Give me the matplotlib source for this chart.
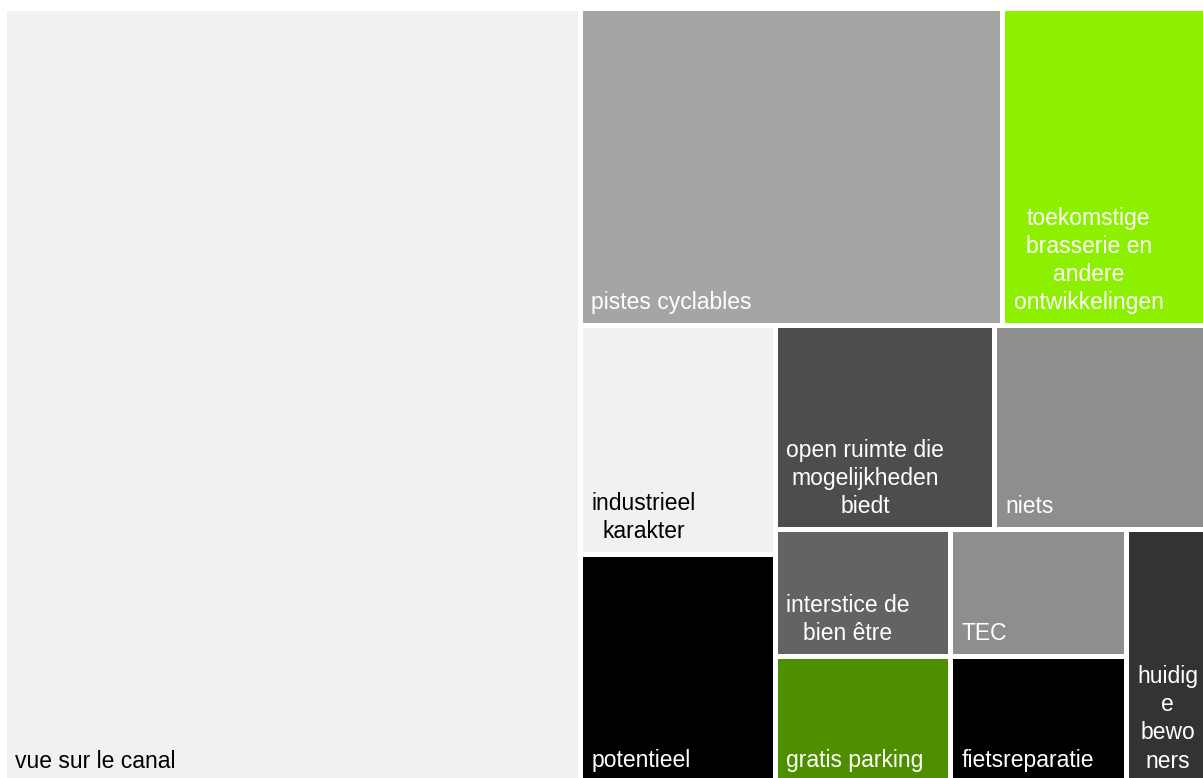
import matplotlib
matplotlib.use("Agg")
from matplotlib import pyplot as plt
from matplotlib.patches import Rectangle
from matplotlib.colors import to_rgb

# data
labels = [
    "vue sur le canal",
    "pistes cyclables",
    "toekomstige\nbrasserie en\nandere\nontwikkelingen",
    "industrieel\nkarakter",
    "potentieel",
    "open ruimte die\nmogelijkheden\nbiedt",
    "niets",
    "interstice de\nbien être",
    "gratis parking",
    "TEC",
    "fietsreparatie",
    "huidig\ne\nbewo\nners",
]
values = [20, 6, 3, 2, 2, 2, 2, 1, 1, 1, 1, 1]
colors = [
    "#f1f1f1", "#a5a5a5", "#8cf000", "#f1f1f1", "#000000", "#4d4d4d",
    "#8e8e8e", "#636363", "#4e8f00", "#8e8e8e", "#000000", "#333333",
]


def worst(row, side):
    s = sum(row)
    return max(max(side * side * r / (s * s), s * s / (side * side * r)) for r in row)


def squarify(vals, x, y, w, h):
    # classic squarified treemap layout
    scale = w * h / sum(vals)
    areas = [v * scale for v in vals]
    rects = []
    i = 0
    while i < len(areas):
        side = min(w, h)
        row = [areas[i]]
        j = i + 1
        while j < len(areas) and worst(row + [areas[j]], side) <= worst(row, side):
            row.append(areas[j])
            j += 1
        s = sum(row)
        if w >= h:
            t = s / h
            yy = y
            for a in row:
                rects.append((x, yy, t, a / t))
                yy += a / t
            x += t
            w -= t
        else:
            t = s / w
            xx = x
            for a in row:
                rects.append((xx, y, a / t, t))
                xx += a / t
            y += t
            h -= t
        i = j
    return rects


fig = plt.figure(figsize=(12.03, 7.78), dpi=100)
ax = fig.add_axes([0, 0, 1, 1])
ax.set_xlim(0, 1203)
ax.set_ylim(778, 0)
ax.axis("off")

gap = 2.5
pad = 8.5
for (x, y, w, h), lab, col in zip(squarify(values, 4, 8, 1210, 776), labels, colors):
    ax.add_patch(Rectangle((x + gap, y + gap), w - 2 * gap, h - 2 * gap,
                           facecolor=col, edgecolor="none"))
    r, g, b = to_rgb(col)
    txt = "black" if 0.299 * r + 0.587 * g + 0.114 * b > 0.8 else "white"
    ax.text(x + gap + pad, y + h - gap - 9, lab, color=txt,
            fontsize=16.5, family="Liberation Sans", ha="left", va="bottom",
            multialignment="center", linespacing=1.28)

fig.savefig("out.png", dpi=100)
